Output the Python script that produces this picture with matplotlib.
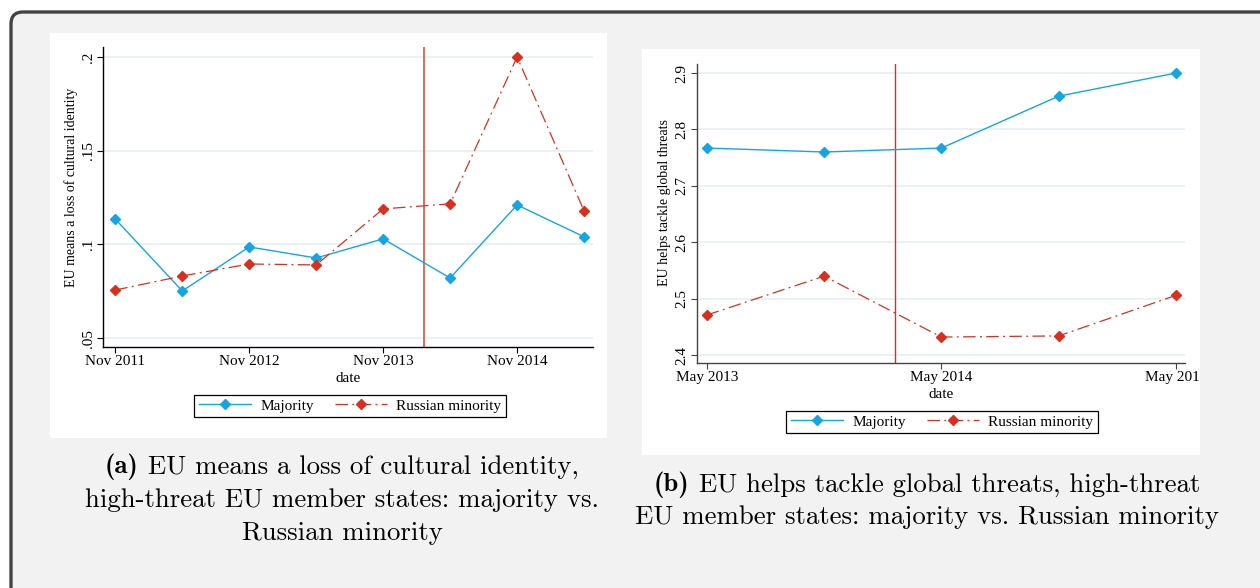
import matplotlib
matplotlib.use('Agg')
import matplotlib.pyplot as plt
from matplotlib.patches import FancyBboxPatch, Rectangle
from matplotlib.transforms import IdentityTransform
from matplotlib.lines import Line2D
import warnings
warnings.filterwarnings('ignore')

# ---------------- data ----------------
a_dates = ['2011-11', '2012-05', '2012-11', '2013-05', '2013-11', '2014-05', '2014-11', '2015-05']
a_majority = [0.1135, 0.0751, 0.0986, 0.0927, 0.1029, 0.0820, 0.1210, 0.1040]
a_russian = [0.0756, 0.0831, 0.0895, 0.0890, 0.1189, 0.1216, 0.2000, 0.1178]
a_xticks = ['2011-11', '2012-11', '2013-11', '2014-11']
a_xtick_labels = ['Nov 2011', 'Nov 2012', 'Nov 2013', 'Nov 2014']
a_yticks = [0.05, 0.10, 0.15, 0.20]
a_ytick_labels = ['.05', '.1', '.15', '.2']
a_ylabel = 'EU means a loss of cultural identity'

b_dates = ['2013-05', '2013-11', '2014-05', '2014-11', '2015-05']
b_majority = [2.767, 2.760, 2.767, 2.859, 2.900]
b_russian = [2.471, 2.540, 2.432, 2.434, 2.506]
b_xticks = ['2013-05', '2014-05', '2015-05']
b_xtick_labels = ['May 2013', 'May 2014', 'May 2015']
b_yticks = [2.4, 2.5, 2.6, 2.7, 2.8, 2.9]
b_ytick_labels = ['2.4', '2.5', '2.6', '2.7', '2.8', '2.9']
b_ylabel = 'EU helps tackle global threats'

event_date = '2014-02-20'
series_names = ['Majority', 'Russian minority']

cap_a_bold = '(a)'
cap_a_lines = ['EU means a loss of cultural identity,',
               'high-threat EU member states: majority vs.',
               'Russian minority']
cap_b_bold = '(b)'
cap_b_lines = ['EU helps tackle global threats, high-threat',
               'EU member states: majority vs. Russian minority']


def month_index(s):
    parts = s.split('-')
    v = int(parts[0]) * 12 + int(parts[1]) - 1
    if len(parts) > 2:
        v += (int(parts[2]) - 1) / 30.0
    return v


# ---------------- figure ----------------
W, H = 1260, 588
fig = plt.figure(figsize=(W / 100, H / 100), dpi=100, facecolor='white')
ID = IdentityTransform()

BLUE = '#16a5e3'
RED = '#d7301f'
GRID = '#e8f0f2'
SERIF = ['Liberation Serif', 'DejaVu Serif']
FS = 11
DASH = (0, (10, 3.5, 1.5, 3.5))

# outer rounded frame
frame = FancyBboxPatch((11, -20), 1270, H - 11 + 20 - 1,
                       boxstyle='round,pad=0,rounding_size=12',
                       facecolor='#f2f2f2', edgecolor='#444444',
                       linewidth=2.4, transform=ID, zorder=-3)
fig.add_artist(frame)

# white panels
fig.add_artist(Rectangle((50, H - 438), 557, 405, facecolor='white',
                         edgecolor='none', transform=ID, zorder=-2))
fig.add_artist(Rectangle((642, H - 455), 558, 406, facecolor='white',
                         edgecolor='none', transform=ID, zorder=-2))


def px_axes(x0, y0, x1, y1):
    return fig.add_axes([x0 / W, 1 - y1 / H, (x1 - x0) / W, (y1 - y0) / H])


def style_axes(ax, spine_color):
    ax.set_facecolor('none')
    for s in ['top', 'right']:
        ax.spines[s].set_visible(False)
    for s in ['left', 'bottom']:
        ax.spines[s].set_color(spine_color)
        ax.spines[s].set_linewidth(1.0)
    ax.tick_params(axis='both', length=4, width=0.8, color=spine_color,
                   labelsize=FS, pad=2)
    ax.tick_params(axis='y', labelrotation=90)
    for lab in ax.get_yticklabels():
        lab.set_va('center')
    ax.grid(axis='y', color=GRID, linewidth=1.2)
    ax.set_axisbelow(True)
    for lab in ax.get_xticklabels() + ax.get_yticklabels():
        lab.set_fontfamily(SERIF)


def draw_panel(ax, dates, maj, rus, xticks, xtl, yticks, ytl, ylabel,
               xlim, ylim, spine_color, vlw, vcolor, ylab_xy):
    x = [month_index(d) for d in dates]
    ax.axvline(month_index(event_date), color=vcolor, lw=vlw, zorder=1)
    ax.plot(x, maj, color=BLUE, lw=1.0, marker='D', ms=5.5, zorder=3)
    ax.plot(x, rus, color=RED, lw=0.9, marker='D', ms=5.5, zorder=3,
            linestyle=DASH)
    ax.set_xlim(*xlim)
    ax.set_ylim(*ylim)
    ax.set_xticks([month_index(t) for t in xticks])
    ax.set_xticklabels(xtl)
    ax.set_yticks(yticks)
    ax.set_yticklabels(ytl)
    ax.set_xlabel('date', fontfamily=SERIF, fontsize=FS, labelpad=3)
    ax.set_ylabel(ylabel, fontfamily=SERIF, fontsize=10)
    ax.yaxis.set_label_coords(*ylab_xy)
    style_axes(ax, spine_color)


ax1 = px_axes(103, 47, 593, 347)
draw_panel(ax1, a_dates, a_majority, a_russian, a_xticks, a_xtick_labels,
           a_yticks, a_ytick_labels, a_ylabel,
           (month_index('2011-11') - 1.1, month_index('2015-05') + 0.8),
           (0.0452, 0.2053), 'black', 1.2, '#e0503f', (-0.05, 0.533))

ax2 = px_axes(697, 64, 1185, 363)
draw_panel(ax2, b_dates, b_majority, b_russian, b_xticks, b_xtick_labels,
           b_yticks, b_ytick_labels, b_ylabel,
           (month_index('2013-05') - 0.5, month_index('2015-05') + 0.46),
           (2.386, 2.916), '#444444', 1.0, RED, (-0.054, 0.535))

# clip last tick label of panel b at the white panel edge
clip_rect = Rectangle((642, H - 455), 558, 406, transform=ID, visible=False)
fig.add_artist(clip_rect)
last = ax2.xaxis.get_major_ticks()[-1].label1
last.set_clip_on(True)
last.set_clip_path(clip_rect)

# legends
handles = [Line2D([], [], color=BLUE, lw=1.0, marker='D', ms=5.5),
           Line2D([], [], color=RED, lw=0.9, marker='D', ms=5.5,
                  linestyle=DASH)]
for cx, cy in [(350, 406), (942, 422)]:
    leg = fig.legend(handles, series_names, loc='center',
                     bbox_to_anchor=(cx / W, 1 - cy / H), ncol=2,
                     numpoints=1, handlelength=3.4, handletextpad=0.6,
                     columnspacing=1.4, borderpad=0.3, fancybox=False,
                     framealpha=1, edgecolor='black',
                     prop={'family': SERIF, 'size': FS})
    leg.get_frame().set_linewidth(0.9)

# captions
CAP_SIZE = 19.3


def caption(cx, ys, bold, lines):
    for i, (y, line) in enumerate(zip(ys, lines)):
        if i == 0:
            full = fig.text(cx / W, 1 - y / H, bold + ' ' + line, fontsize=CAP_SIZE,
                            fontfamily='cmr10', ha='center', va='center', alpha=0)
            fig.canvas.draw()
            bb = full.get_window_extent()
            tb = fig.text(bb.x0 / W, 1 - y / H, bold, fontsize=CAP_SIZE,
                          fontfamily='cmb10', ha='left', va='center')
            fig.canvas.draw()
            bb2 = tb.get_window_extent()
            fig.text(bb2.x1 / W, 1 - y / H, ' ' + line, fontsize=CAP_SIZE,
                     fontfamily='cmr10', ha='left', va='center')
        else:
            fig.text(cx / W, 1 - y / H, line, fontsize=CAP_SIZE,
                     fontfamily='cmr10', ha='center', va='center')


caption(342, [467, 500, 533], cap_a_bold, cap_a_lines)
caption(927, [485, 517], cap_b_bold, cap_b_lines)

fig.savefig('out.png', dpi=100, facecolor='white')
